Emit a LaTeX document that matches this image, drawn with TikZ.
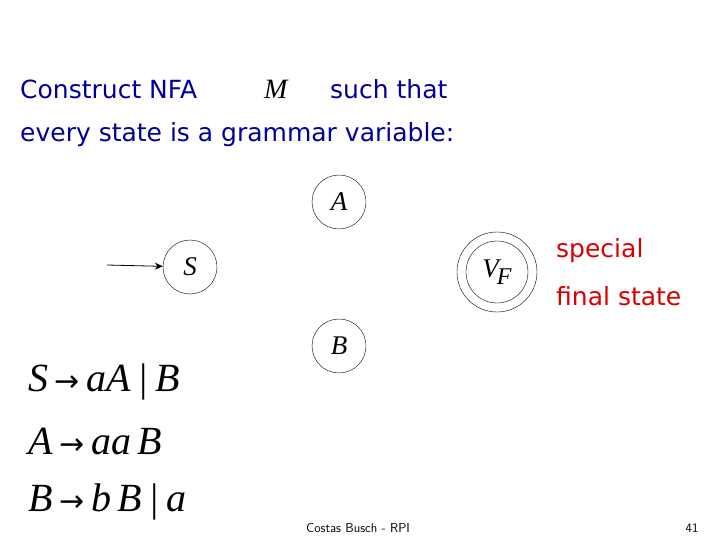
\documentclass[tikz,border=0pt]{standalone}
\usepackage{fontspec}
\setmainfont{Liberation Serif}
\newfontfamily\talkfont{DejaVu Sans}
\newfontfamily\symfont{DejaVu Sans}
\usetikzlibrary{positioning,arrows.meta}
\tikzstyle{State}=[circle, draw, thin, minimum size=54pt, inner sep=0pt, font=\fontsize{27}{27}\selectfont\itshape]
\tikzstyle{Talk}=[anchor=west, inner sep=0pt, font=\talkfont\fontsize{25}{25}\selectfont]
\tikzstyle{Rule}=[anchor=west, inner sep=0pt, font=\fontsize{40}{40}\selectfont\itshape]
\newcommand{\ra}{\,{\upshape\symfont\fontsize{30}{30}\selectfont →}\,}
\begin{document}
\begin{tikzpicture}[x=1pt,y=-1pt]
			\useasboundingbox (0,0) rectangle (720,540);
			%Titulo
			\node[Talk, text=blue!60!black]	(line1)	at (20,89)	{Construct NFA};
			\node[Talk, font=\fontsize{28}{28}\selectfont\itshape]	(nfa)	at (264,89)	{M};
			\node[Talk, text=blue!60!black]	(such)	at (330,89)	{such that};
			\node[Talk, text=blue!60!black]	(line2)	at (20,135)	{every state is a grammar variable:};

			%Estados
			\node[State]	(A)	at (339,202)	{A};
			\node[State]	(S)	at (190,267)	{S};
			\node[State]	(B)	at (339,346)	{B};
			\node[circle, draw, thin, minimum size=80pt]	(VF)	at (497,272)	{};
			\node[State, minimum size=62pt]	(VFin)	at (VF)	{V\kern-2pt\raisebox{-0.6ex}{\fontsize{24}{24}\selectfont F}};
			\coordinate	(start)	at (107,265);

			\node[Talk, text=red!85!black]	(special)	at (556,251)	{special};
			\node[Talk, text=red!85!black]	(final)	[below = 45pt of special.west, anchor=west]	{final state};

			%Gramatica
			\node[Rule]	(ruleS)	at (28,382)	{S\ra aA\,|\,B};
			\node[Rule]	(ruleA)	at (28,441)	{A\ra aa\,B};
			\node[Rule]	(ruleB)	at (28,502)	{B\ra b\,B\,|\,a};

			\node[font=\fontsize{13}{13}\selectfont\sffamily]	(foot)	at (358,528)	{Costas Busch - RPI};
			\node[font=\fontsize{13}{13}\selectfont\sffamily]	(page)	at (692,528)	{41};

			%Lineas
			\draw[-{Stealth[length=8pt,width=7pt]}, thick] (start) -- (S);
		\end{tikzpicture}
\end{document}
